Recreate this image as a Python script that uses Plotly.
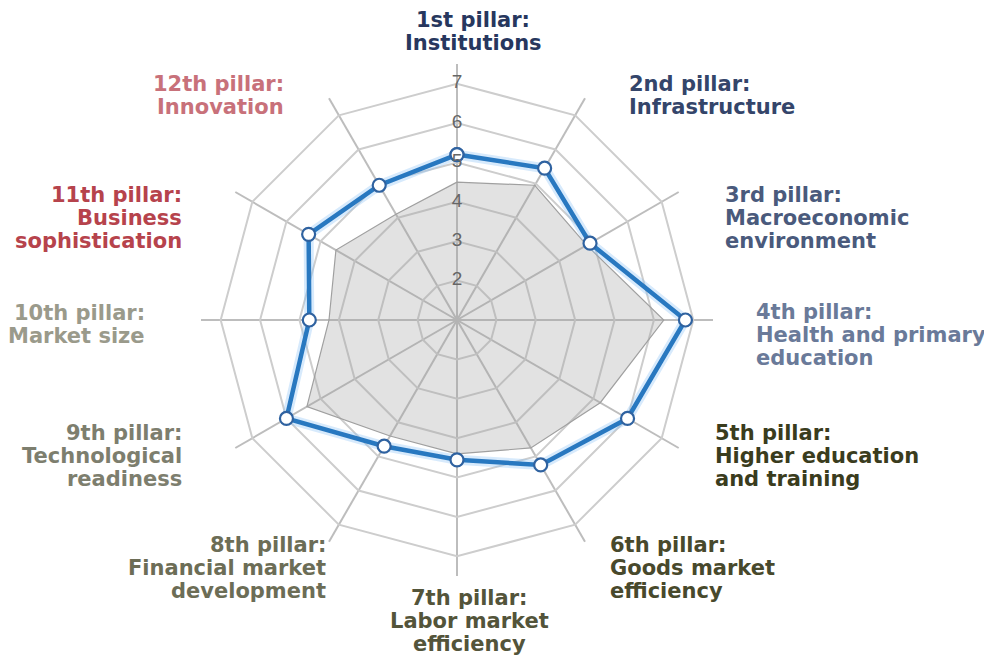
import plotly.graph_objects as go

# ---------------- data ----------------
pillars = ["Institutions", "Infrastructure", "Macroeconomic environment",
           "Health and primary education", "Higher education and training",
           "Goods market efficiency", "Labor market efficiency",
           "Financial market development", "Technological readiness",
           "Market size", "Business sophistication", "Innovation"]

label_lines = [
    ["1st pillar:", "Institutions"],
    ["2nd pillar:", "Infrastructure"],
    ["3rd pillar:", "Macroeconomic", "environment"],
    ["4th pillar:", "Health and primary", "education"],
    ["5th pillar:", "Higher education", "and training"],
    ["6th pillar:", "Goods market", "efficiency"],
    ["7th pillar:", "Labor market", "efficiency"],
    ["8th pillar:", "Financial market", "development"],
    ["9th pillar:", "Technological", "readiness"],
    ["10th pillar:", "Market size"],
    ["11th pillar:", "Business", "sophistication"],
    ["12th pillar:", "Innovation"],
]
label_colors = ["#27375e", "#34456a", "#4a5a7c", "#6a7a99",
                "#3a3c1d", "#48492c", "#53543a", "#6c6d56",
                "#7d7e6e", "#9a9a8b", "#b6434c", "#c8717a"]

country_scores = [5.2, 5.45, 4.9, 6.8, 6.0, 5.25, 4.55, 4.7, 6.0, 4.75, 5.35, 4.95]
group_average = [4.5, 4.95, 4.8, 6.25, 5.2, 4.75, 4.4, 4.4, 5.4, 4.25, 4.55, 4.1]
radial_ticks = [1, 2, 3, 4, 5, 6, 7]

# ---------------- layout helpers ----------------
W, H = 992, 657
OFF = 8                      # page body margin offset
CX, CY, R = 457 - OFF, 320 - OFF, 256

# label placement in page pixels: (x, first-line y, anchor)
label_pos = [
    (473, 20, "center"), (627, 84, "left"), (723, 195, "left"),
    (754, 312, "left"), (713, 433, "left"), (608, 545, "left"),
    (469, 598, "center"), (328, 545, "right"), (184, 433, "right"),
    (147, 313, "right"), (184, 195, "right"), (286, 84, "right"),
]
LINE_STEP = 22.8

fig = go.Figure()

closed_theta = pillars + [pillars[0]]

fig.add_trace(go.Scatterpolar(
    r=group_average + [group_average[0]], theta=closed_theta,
    mode="lines", fill="toself",
    fillcolor="rgba(160,160,160,0.30)",
    line=dict(color="#a0a0a0", width=1.2),
    hoverinfo="skip", showlegend=False))

# soft glow under the country line
fig.add_trace(go.Scatterpolar(
    r=country_scores + [country_scores[0]], theta=closed_theta,
    mode="lines", line=dict(color="rgba(140,195,245,0.35)", width=10),
    hoverinfo="skip", showlegend=False))

fig.add_trace(go.Scatterpolar(
    r=country_scores + [country_scores[0]], theta=closed_theta,
    mode="lines+markers",
    line=dict(color="#2878c0", width=4.5),
    marker=dict(size=13, color="white", line=dict(color="#2f62a0", width=2.2)),
    showlegend=False))

# radial tick labels centred on the first spoke
fig.add_trace(go.Scatterpolar(
    r=radial_ticks, theta=[pillars[0]] * len(radial_ticks),
    mode="text", text=[str(t) for t in radial_ticks],
    textfont=dict(family="Liberation Sans, Arial", size=19, color="#666666"),
    hoverinfo="skip", showlegend=False))

annotations = []
for lines, color, (x, y, anchor) in zip(label_lines, label_colors, label_pos):
    for i, line in enumerate(lines):
        annotations.append(dict(
            x=(x - OFF) / W, y=1 - (y - OFF + i * LINE_STEP) / H,
            xref="paper", yref="paper",
            text="<b>" + line + "</b>", showarrow=False,
            xanchor=anchor, yanchor="middle", align=anchor,
            font=dict(family="DejaVu Sans", size=21, color=color)))

fig.update_layout(
    width=W, height=H,
    margin=dict(l=0, r=0, t=0, b=0),
    paper_bgcolor="white",
    annotations=annotations,
    polar=dict(
        domain=dict(x=[(CX - R) / W, (CX + R) / W],
                    y=[(H - CY - R) / H, (H - CY + R) / H]),
        bgcolor="white",
        gridshape="linear",
        radialaxis=dict(range=[1, 7.5], tickvals=radial_ticks, showticklabels=False,
                        showline=False, ticks="", gridcolor="#cdcdcd", gridwidth=2,
                        angle=90),
        angularaxis=dict(direction="clockwise", rotation=90, showticklabels=False,
                         showline=False, ticks="", gridcolor="#bdbdbd", gridwidth=1.5),
    ),
)

fig.write_html("out.html")
